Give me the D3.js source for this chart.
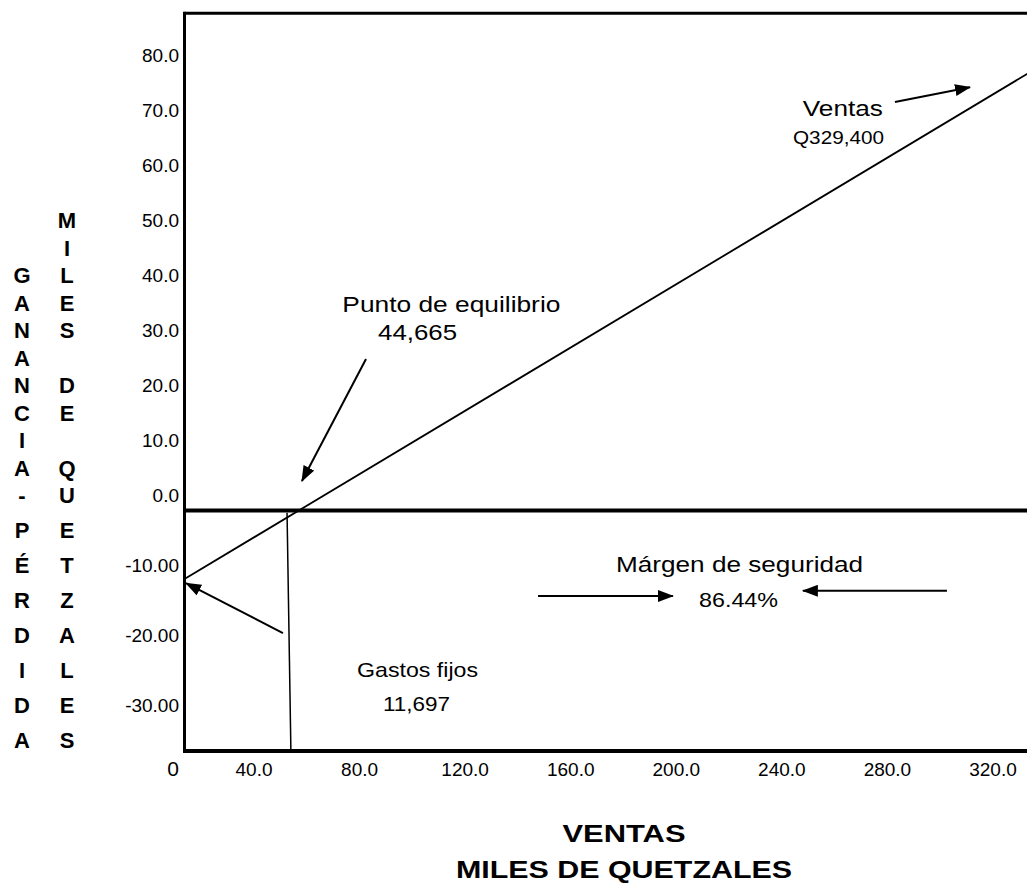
<!DOCTYPE html>
<html>
<head>
<meta charset="utf-8">
<script src="https://cdn.jsdelivr.net/npm/d3@7"></script>
<style>
  body { margin: 0; background: #fff; }
  text { font-family: "Liberation Sans", Arial, sans-serif; fill: #000; }
</style>
</head>
<body>
<script>
var width = 1027, height = 883;

// datos en miles de quetzales
var ventas = [0, 329.4];
var resultado = [-11.697, 74.567];
var puntoEquilibrio = 44.665;
var gastosFijos = 11.697;
// linea vertical bajo el punto de equilibrio (trazada a mano en el original)
var lineaVertical = [[40.0, -0.4], [41.5, -41]];

var yTicks = [80, 70, 60, 50, 40, 30, 20, 10, 0, -10, -20, -30];
var yTickLabels = ["80.0", "70.0", "60.0", "50.0", "40.0", "30.0", "20.0", "10.0", "0.0", "-10.00", "-20.00", "-30.00"];
var xTicks = [0, 40, 80, 120, 160, 200, 240, 280, 320];
var xTickLabels = ["0", "40.0", "80.0", "120.0", "160.0", "200.0", "240.0", "280.0", "320.0"];

var letrasIzq = "GANANCIA-PÉRDIDA".split("");
var letrasDer = "MILES DE QUETZALES".split("");

// anotaciones: flechas [x1, y1, x2, y2] en unidades de datos
var flechas = [
  [70.8, 25.8, 45.8, 5.0],
  [38.4, -20.9, 0.6, -12.4],
  [277.1, 69.6, 306.4, 72.1],
  [137.9, -14.6, 190.5, -14.6],
  [297.4, -13.7, 241.2, -13.7]
];
// textos: [texto, x, y, tamaño, ancho]
var textos = [
  ["Punto de equilibrio", 104.1, 33.8, 22, 218],
  ["44,665", 90.9, 29.0, 22, 79],
  ["Ventas", 256.8, 67.2, 22, 80],
  ["Q329,400", 255.1, 62.4, 18, 91],
  ["Márgen de seguridad", 216.5, -10.5, 22, 247],
  ["86.44%", 216.1, -16.5, 21, 79],
  ["Gastos fijos", 90.9, -28.4, 21, 121],
  ["11,697", 90.5, -34.2, 21, 67]
];

var xScale = d3.scaleLinear().domain([0, 329.4]).range([184.5, 1029]);
var yScale = d3.scaleLinear().domain([-41, 84.7]).range([751, 13.3]);
// las etiquetas del original no coinciden con la escala de los datos
var yLabelScale = d3.scaleLinear().domain([-35, 0, 80]).range([740, 495, 55]);
var xLabelScale = d3.scaleLinear().domain([0, 40, 320]).range([173, 254, 993]);

var svg = d3.select("body").append("svg")
  .attr("width", width)
  .attr("height", height)
  .style("background", "#fff");

svg.append("defs").append("marker")
  .attr("id", "punta")
  .attr("viewBox", "0 0 16 12")
  .attr("refX", 15)
  .attr("refY", 6)
  .attr("markerWidth", 16)
  .attr("markerHeight", 12)
  .attr("markerUnits", "userSpaceOnUse")
  .attr("orient", "auto")
  .append("path")
  .attr("d", "M0,0L16,6L0,12Z")
  .attr("fill", "#000");

// marco
var x0 = xScale(0), y0 = yScale.range()[0], y1 = yScale.range()[1];
svg.append("line").attr("x1", x0).attr("x2", width).attr("y1", y1).attr("y2", y1)
  .attr("stroke", "#000").attr("stroke-width", 3);
svg.append("line").attr("x1", x0).attr("x2", width).attr("y1", y0).attr("y2", y0)
  .attr("stroke", "#000").attr("stroke-width", 4);
svg.append("line").attr("x1", x0).attr("x2", width).attr("y1", yScale(0)).attr("y2", yScale(0))
  .attr("stroke", "#000").attr("stroke-width", 4);
svg.append("line").attr("x1", x0).attr("x2", x0).attr("y1", y1 - 1.5).attr("y2", y0 + 2)
  .attr("stroke", "#000").attr("stroke-width", 3);

// linea de resultado
svg.append("line")
  .attr("x1", xScale(ventas[0])).attr("y1", yScale(resultado[0]))
  .attr("x2", xScale(ventas[1])).attr("y2", yScale(resultado[1]))
  .attr("stroke", "#000").attr("stroke-width", 1.8);

svg.append("line")
  .attr("x1", xScale(lineaVertical[0][0])).attr("y1", yScale(lineaVertical[0][1]))
  .attr("x2", xScale(lineaVertical[1][0])).attr("y2", yScale(lineaVertical[1][1]))
  .attr("stroke", "#000").attr("stroke-width", 1.5);

// flechas
svg.selectAll("line.flecha")
  .data(flechas)
  .enter()
  .append("line")
  .attr("class", "flecha")
  .attr("x1", function(d){return xScale(d[0]);})
  .attr("y1", function(d){return yScale(d[1]);})
  .attr("x2", function(d){return xScale(d[2]);})
  .attr("y2", function(d){return yScale(d[3]);})
  .attr("stroke", "#000")
  .attr("stroke-width", 2)
  .attr("marker-end", "url(#punta)");

// textos de anotacion
svg.selectAll("text.nota")
  .data(textos)
  .enter()
  .append("text")
  .attr("class", "nota")
  .attr("x", function(d){return xScale(d[1]);})
  .attr("y", function(d){return yScale(d[2]);})
  .attr("text-anchor", "middle")
  .attr("font-size", function(d){return d[3] + "px";})
  .attr("textLength", function(d){return d[4];})
  .attr("lengthAdjust", "spacingAndGlyphs")
  .text(function(d){return d[0];});

// etiquetas eje y
svg.selectAll("text.ytick")
  .data(yTicks)
  .enter()
  .append("text")
  .attr("class", "ytick")
  .attr("x", 179)
  .attr("y", function(d){return yLabelScale(d) + 7;})
  .attr("text-anchor", "end")
  .attr("font-size", "19px")
  .text(function(d, i){return yTickLabels[i];});

// etiquetas eje x
svg.selectAll("text.xtick")
  .data(xTicks)
  .enter()
  .append("text")
  .attr("class", "xtick")
  .attr("x", function(d){return xLabelScale(d);})
  .attr("y", 776)
  .attr("text-anchor", "middle")
  .attr("font-size", function(d){return d === 0 ? "21px" : "19px";})
  .text(function(d, i){return xTickLabels[i];});

// titulos verticales
svg.selectAll("text.izq")
  .data(letrasIzq)
  .enter()
  .append("text")
  .attr("class", "izq")
  .attr("x", 22)
  .attr("y", function(d, i){return yLabelScale(40 - 5 * i) + 8;})
  .attr("text-anchor", "middle")
  .attr("font-size", "22px")
  .attr("font-weight", "bold")
  .text(function(d){return d;});

svg.selectAll("text.der")
  .data(letrasDer)
  .enter()
  .append("text")
  .attr("class", "der")
  .attr("x", 67)
  .attr("y", function(d, i){return yLabelScale(50 - 5 * i) + 8;})
  .attr("text-anchor", "middle")
  .attr("font-size", "22px")
  .attr("font-weight", "bold")
  .text(function(d){return d;});

// titulo eje x
svg.append("text")
  .attr("x", 624).attr("y", 842)
  .attr("text-anchor", "middle")
  .attr("font-size", "24px").attr("font-weight", "bold")
  .attr("textLength", 123).attr("lengthAdjust", "spacingAndGlyphs")
  .text("VENTAS");
svg.append("text")
  .attr("x", 624).attr("y", 878)
  .attr("text-anchor", "middle")
  .attr("font-size", "24px").attr("font-weight", "bold")
  .attr("textLength", 336).attr("lengthAdjust", "spacingAndGlyphs")
  .text("MILES DE QUETZALES");
</script>
</body>
</html>
